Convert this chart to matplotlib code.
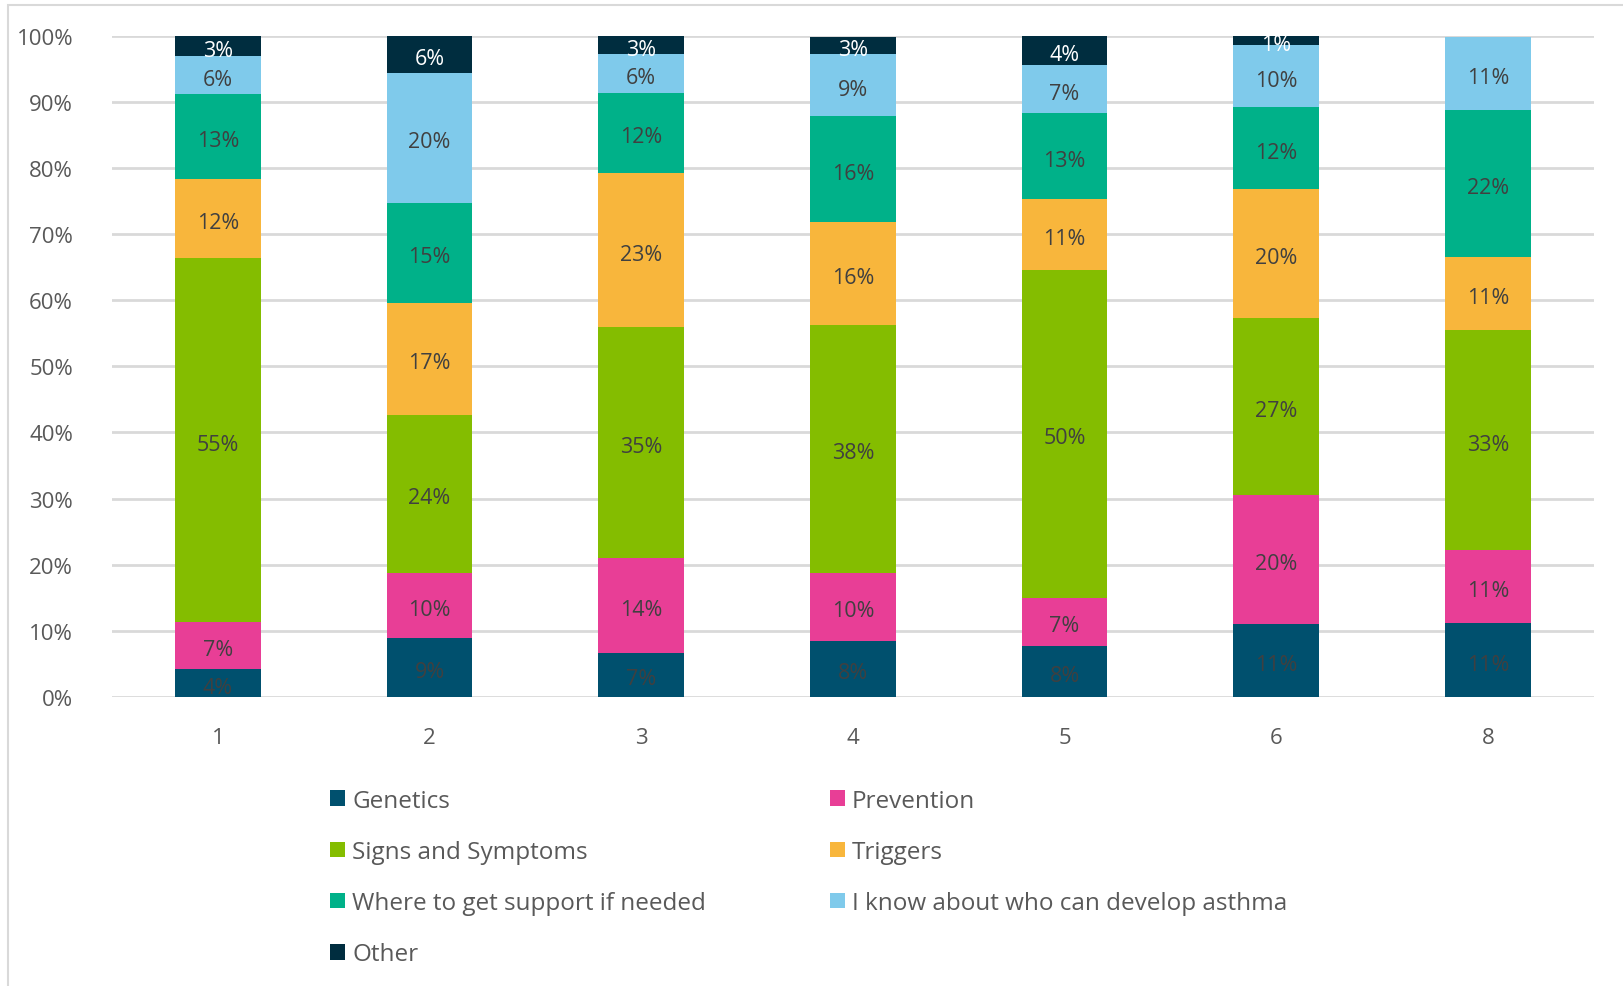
import matplotlib
matplotlib.use("Agg")
import matplotlib.pyplot as plt
from matplotlib.patches import Patch, Rectangle
import numpy as np

plt.rcParams['font.family'] = ['Open Sans', 'DejaVu Sans']

categories = ["1", "2", "3", "4", "5", "6", "8"]
series_names = ["Genetics", "Prevention", "Signs and Symptoms", "Triggers",
                "Where to get support if needed", "I know about who can develop asthma", "Other"]
genetics = [4.2, 8.9, 6.7, 8.5, 7.7, 11.0, 11.1]
prevention = [7.1, 9.9, 14.3, 10.3, 7.3, 19.5, 11.1]
signs = [55.1, 23.9, 34.9, 37.5, 49.6, 26.8, 33.3]
triggers = [12.0, 16.9, 23.4, 15.5, 10.7, 19.5, 11.1]
support = [12.8, 15.2, 12.1, 16.1, 13.0, 12.4, 22.2]
know = [5.8, 19.6, 5.9, 9.4, 7.3, 9.5, 11.1]
other = [3.0, 5.6, 2.7, 2.6, 4.4, 1.3, 0.0]

colors = ["#00506E", "#E83E96", "#84BD00", "#F8B63C", "#00B189", "#7FCAEB", "#002D3F"]
label_colors = ["#404040", "#404040", "#404040", "#404040", "#404040", "#404040", "#FFFFFF"]

data = [genetics, prevention, signs, triggers, support, know, other]

fig = plt.figure(figsize=(16.23, 9.87), dpi=100)
ax = fig.add_axes([0.069, 0.293, 0.913, 0.6695])

x = np.arange(len(categories))
bottom = np.zeros(len(categories))
handles = []
for vals, name, col, lc in zip(data, series_names, colors, label_colors):
    vals = np.array(vals)
    ax.bar(x, vals, width=0.405, bottom=bottom, color=col, zorder=3, label=name)
    for xi, v, b in zip(x, vals, bottom):
        if v > 0:
            ax.annotate(f"{v:.0f}%", (xi, b + v / 2), xytext=(0, -3),
                        textcoords='offset points', ha='center', va='center',
                        color=lc, fontsize=15.5, zorder=4)
    handles.append(Patch(facecolor=col, label=name))
    bottom += vals

ax.set_ylim(0, 100)
ax.set_xlim(-0.5, len(categories) - 0.5)
ax.set_yticks(np.arange(0, 101, 10))
ax.set_yticklabels([f"{v}%" for v in range(0, 101, 10)])
ax.set_xticks(x)
ax.set_xticklabels(categories)
ax.grid(axis='y', color='#D9D9D9', linewidth=2, zorder=0)
for s in ax.spines.values():
    s.set_visible(False)
ax.tick_params(axis='both', length=0, labelsize=16, labelcolor='#595959')
ax.tick_params(axis='x', pad=22)
ax.tick_params(axis='y', pad=28)

order = [0, 2, 4, 6, 1, 3, 5]
leg = fig.legend([handles[i] for i in order], [series_names[i] for i in order],
                 ncol=2, loc='upper left', bbox_to_anchor=(0.19, 0.222),
                 frameon=False, fontsize=17.5, handlelength=0.6, handleheight=0.6,
                 handletextpad=0.3, columnspacing=5.1, labelspacing=1.12,
                 labelcolor='#595959')

fig.patches.append(Rectangle((0.005, -0.01), 1.0, 1.004, transform=fig.transFigure,
                             fill=False, edgecolor='#D9D9D9', linewidth=1.5))

fig.savefig("out.png", dpi=100)
